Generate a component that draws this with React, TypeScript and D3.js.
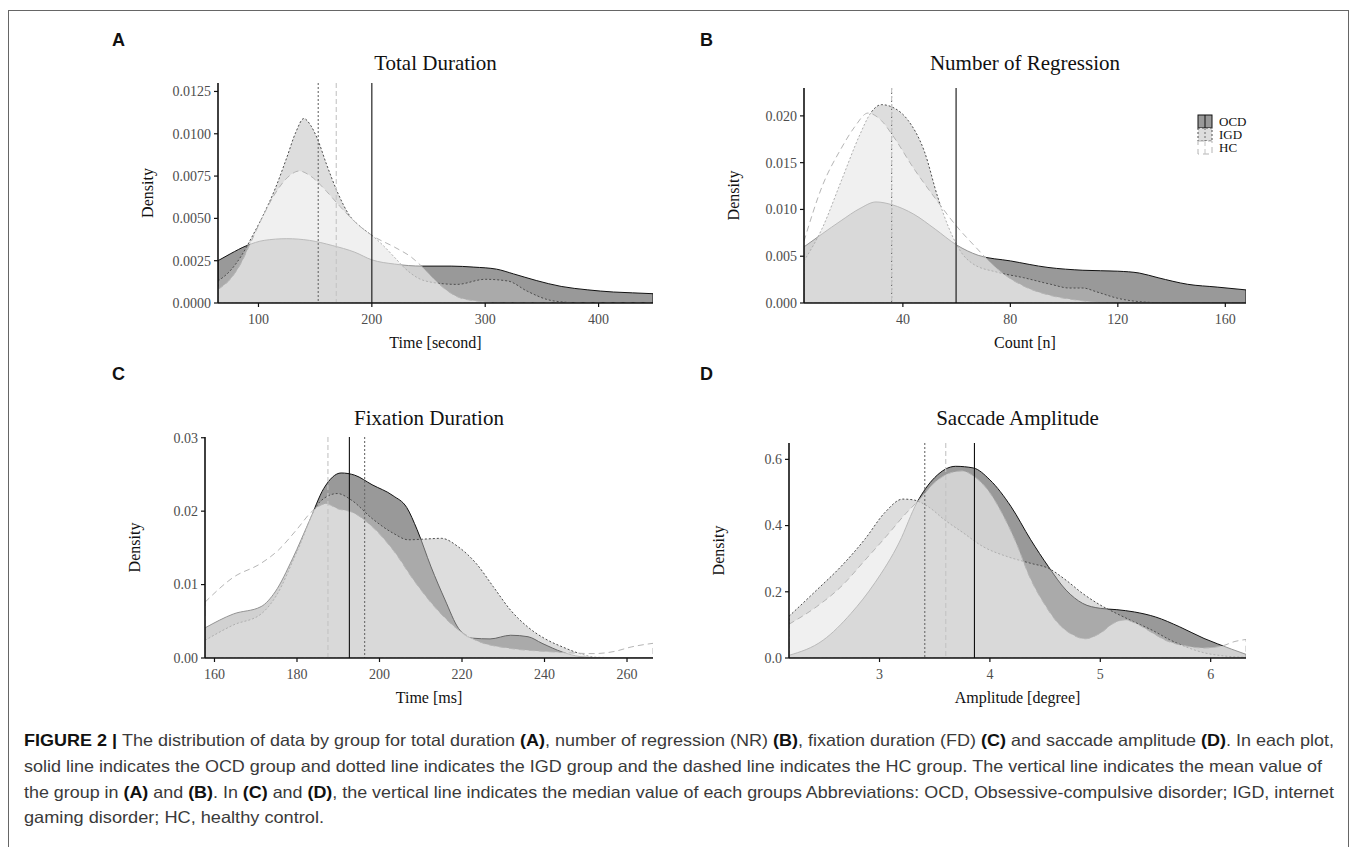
import React from 'react';
import * as d3 from 'd3';

type Pt = [number, number];

const groups = ['OCD', 'IGD', 'HC'];

// ---------- Panel A: Total Duration ----------
const tdOCD: Pt[] = [[64.3, 0.0025], [75, 0.0029], [90, 0.0034], [105, 0.0037], [125, 0.0038], [145, 0.0037], [165, 0.0034], [185, 0.0030], [200, 0.00255], [220, 0.0023], [245, 0.00218], [270, 0.00218], [290, 0.00212], [310, 0.0020], [325, 0.00172], [345, 0.00133], [367, 0.00098], [390, 0.00078], [413, 0.00065], [430, 0.0006], [448, 0.00055]];
const tdIGD: Pt[] = [[64.3, 0.0013], [75, 0.0019], [85, 0.0028], [95, 0.0040], [105, 0.0053], [115, 0.0068], [125, 0.0086], [133, 0.0101], [140, 0.0109], [146, 0.0105], [152, 0.0097], [160, 0.0082], [170, 0.0065], [180, 0.0052], [190, 0.0045], [200, 0.0040], [210, 0.0034], [220, 0.0027], [230, 0.0020], [240, 0.0015], [255, 0.0012], [275, 0.0011], [300, 0.0014], [320, 0.0013], [337, 0.0007], [355, 0.0002], [370, 0.00005], [390, 0], [448, 0]];
const tdHC: Pt[] = [[64.3, 0.0008], [75, 0.0014], [85, 0.0024], [92, 0.0034], [103, 0.0050], [115, 0.0065], [127, 0.0075], [136, 0.0078], [146, 0.0075], [160, 0.0066], [172, 0.0057], [185, 0.0048], [200, 0.0040], [220, 0.0033], [235, 0.0027], [245, 0.0021], [255, 0.0014], [265, 0.0008], [278, 0.0003], [295, 0.0001], [310, 0], [448, 0]];
const tdLines = [200, 152.7, 168.6];
const tdXTicks = [100, 200, 300, 400];
const tdYTicks = [0, 0.0025, 0.005, 0.0075, 0.01, 0.0125];

// ---------- Panel B: Number of Regression ----------
const nrOCD: Pt[] = [[3.2, 0.0060], [10, 0.0074], [17, 0.0088], [24, 0.0101], [30, 0.0108], [36, 0.0105], [44, 0.0095], [52, 0.0079], [60, 0.0062], [68, 0.0051], [80, 0.0045], [94, 0.0038], [107, 0.0035], [120, 0.0034], [128, 0.0032], [135, 0.0027], [146, 0.0020], [157, 0.0017], [167.7, 0.0014]];
const nrIGD: Pt[] = [[3.2, 0.0045], [10, 0.0080], [17, 0.0130], [24, 0.0180], [28, 0.0203], [32, 0.0212], [37, 0.0208], [42, 0.0195], [48, 0.0162], [53, 0.0113], [57, 0.0081], [62, 0.0053], [66, 0.0042], [75, 0.0033], [85, 0.0027], [95, 0.0020], [102, 0.0016], [107, 0.0016], [112, 0.0012], [120, 0.0005], [130, 0.0001], [140, 0], [167.7, 0]];
const nrHC: Pt[] = [[3.2, 0.0066], [10, 0.0125], [17, 0.0165], [22, 0.0188], [27, 0.0203], [32, 0.0195], [36, 0.0180], [44, 0.0144], [52, 0.0112], [60, 0.0082], [67, 0.0060], [72, 0.0045], [78, 0.0030], [85, 0.0018], [95, 0.0008], [105, 0.0003], [118, 0], [167.7, 0]];
const nrLines = [59.8, 35.8, 35.8];
const nrXTicks = [40, 80, 120, 160];
const nrYTicks = [0, 0.005, 0.01, 0.015, 0.02];

// ---------- Panel C: Fixation Duration ----------
const fdOCD: Pt[] = [[157.7, 0.0041], [164.6, 0.0060], [171.3, 0.0070], [174.7, 0.0090], [178.9, 0.0135], [183.1, 0.0188], [186.5, 0.0231], [190.7, 0.0252], [194, 0.0249], [198.2, 0.0236], [203.3, 0.0221], [206.6, 0.0205], [209.1, 0.0175], [212.5, 0.0124], [215.9, 0.0079], [219.2, 0.0040], [222.6, 0.0027], [226.8, 0.0026], [231.8, 0.0031], [236, 0.0029], [239.4, 0.0020], [244.4, 0.0008], [248.6, 0.0002], [255, 0], [266.3, 0]];
const fdIGD: Pt[] = [[157.7, 0.0024], [164.6, 0.0045], [171.3, 0.0060], [175, 0.0085], [180, 0.0145], [185.6, 0.0213], [189.8, 0.0224], [193.2, 0.0215], [198.2, 0.0190], [203.3, 0.0170], [207, 0.0161], [211, 0.0162], [215, 0.0163], [219.2, 0.0151], [223.4, 0.0129], [227.6, 0.0097], [231.8, 0.0065], [236, 0.0042], [240.2, 0.0026], [244.4, 0.0015], [248.6, 0.0006], [252.8, 0.0001], [266.3, 0]];
const fdHC: Pt[] = [[157.7, 0.0076], [164.6, 0.0110], [171.3, 0.0129], [175.5, 0.0147], [179.8, 0.0174], [183.9, 0.0201], [187, 0.0210], [190, 0.0203], [193.2, 0.0199], [198.2, 0.0179], [203.3, 0.0147], [208.3, 0.0106], [213.3, 0.0070], [218.3, 0.0042], [223.4, 0.0024], [231.8, 0.0013], [240.2, 0.0009], [246, 0.0007], [252, 0.0006], [257, 0.0009], [261, 0.0015], [266.3, 0.0020]];
const fdLines = [192.7, 196.4, 187.5];
const fdXTicks = [160, 180, 200, 220, 240, 260];
const fdYTicks = [0, 0.01, 0.02, 0.03];

// ---------- Panel D: Saccade Amplitude ----------
const saOCD: Pt[] = [[2.18, 0.008], [2.49, 0.054], [2.74, 0.134], [2.96, 0.228], [3.18, 0.35], [3.34, 0.47], [3.5, 0.545], [3.69, 0.579], [3.85, 0.574], [4.0, 0.538], [4.19, 0.458], [4.37, 0.357], [4.53, 0.276], [4.69, 0.205], [4.84, 0.165], [5.0, 0.150], [5.15, 0.146], [5.31, 0.139], [5.5, 0.124], [5.72, 0.094], [5.94, 0.059], [6.06, 0.043], [6.32, 0.011]];
const saIGD: Pt[] = [[2.18, 0.126], [2.43, 0.205], [2.65, 0.276], [2.87, 0.36], [3.05, 0.44], [3.21, 0.48], [3.30, 0.478], [3.45, 0.455], [3.59, 0.417], [3.75, 0.38], [3.94, 0.336], [4.16, 0.306], [4.37, 0.286], [4.53, 0.271], [4.69, 0.235], [4.84, 0.195], [5.0, 0.16], [5.15, 0.134], [5.3, 0.11], [5.47, 0.084], [5.63, 0.055], [5.78, 0.033], [5.95, 0.015], [6.1, 0.007], [6.32, 0.002]];
const saHC: Pt[] = [[2.18, 0.102], [2.43, 0.155], [2.65, 0.215], [2.87, 0.296], [3.06, 0.367], [3.24, 0.437], [3.36, 0.478], [3.5, 0.53], [3.65, 0.56], [3.75, 0.565], [3.85, 0.55], [3.98, 0.508], [4.11, 0.437], [4.24, 0.346], [4.36, 0.245], [4.49, 0.165], [4.62, 0.104], [4.75, 0.07], [4.86, 0.058], [5.0, 0.075], [5.12, 0.105], [5.22, 0.115], [5.32, 0.105], [5.45, 0.08], [5.6, 0.052], [5.78, 0.036], [5.94, 0.03], [6.1, 0.036], [6.22, 0.05], [6.32, 0.056]];
const saLines = [3.86, 3.41, 3.60];
const saXTicks = [3, 4, 5, 6];
const saYTicks = [0, 0.2, 0.4, 0.6];

// ---------- layout / style ----------
const styles = [
  { fill: '#333333', fo: 0.5, stroke: '#111111', dash: undefined as string | undefined },
  { fill: '#bbbbbb', fo: 0.5, stroke: '#4d4d4d', dash: '2,2' },
  { fill: '#ffffff', fo: 0.55, stroke: '#b5b5b5', dash: '6,4' },
];
const vStyles = [
  { stroke: '#111111', dash: undefined as string | undefined, w: 1.1 },
  { stroke: '#6a6a6a', dash: '2,2', w: 1.1 },
  { stroke: '#c4c4c4', dash: '5,3', w: 1.1 },
];

const serif = '"Liberation Serif", "DejaVu Serif", serif';
const sans = '"Liberation Sans", Arial, sans-serif';

const panels = [
  { id: 'A', title: 'Total Duration', xLabel: 'Time [second]', series: [tdOCD, tdIGD, tdHC], vlines: tdLines, xTicks: tdXTicks, yTicks: tdYTicks, yFmt: '.4f', xDomain: [64.3, 448], yDomain: [0, 0.0130], left: 218, right: 653, top: 83, bottom: 303, titleY: 70, letterX: 112, letterY: 46 },
  { id: 'B', title: 'Number of Regression', xLabel: 'Count [n]', series: [nrOCD, nrIGD, nrHC], vlines: nrLines, xTicks: nrXTicks, yTicks: nrYTicks, yFmt: '.3f', xDomain: [3.2, 167.7], yDomain: [0, 0.02298], left: 804, right: 1246, top: 88, bottom: 303, titleY: 70, letterX: 700, letterY: 46, legend: true },
  { id: 'C', title: 'Fixation Duration', xLabel: 'Time [ms]', series: [fdOCD, fdIGD, fdHC], vlines: fdLines, xTicks: fdXTicks, yTicks: fdYTicks, yFmt: '.2f', xDomain: [157.7, 266.3], yDomain: [0, 0.0301], left: 205, right: 653, top: 437, bottom: 658, titleY: 425, letterX: 112, letterY: 380 },
  { id: 'D', title: 'Saccade Amplitude', xLabel: 'Amplitude [degree]', series: [saOCD, saIGD, saHC], vlines: saLines, xTicks: saXTicks, yTicks: saYTicks, yFmt: '.1f', xDomain: [2.18, 6.32], yDomain: [0, 0.6494], left: 789, right: 1246, top: 443, bottom: 658, titleY: 425, letterX: 700, letterY: 380 },
];

function Panel({ p }: { p: any }) {
  const x = d3.scaleLinear().domain(p.xDomain).range([p.left, p.right]);
  const y = d3.scaleLinear().domain(p.yDomain).range([p.bottom, p.top]);
  const area = d3.area<Pt>().x(d => x(d[0])).y0(y(0)).y1(d => y(d[1])).curve(d3.curveMonotoneX);
  const fmt = d3.format(p.yFmt);
  const cx = (p.left + p.right) / 2;
  const cy = (p.top + p.bottom) / 2;
  const clipId = 'clip' + p.id;
  return (
    <g>
      <defs>
        <clipPath id={clipId}>
          <rect x={p.left} y={p.top - 2} width={p.right - p.left} height={p.bottom - p.top + 2} />
        </clipPath>
      </defs>
      <text x={p.letterX} y={p.letterY} fontFamily={sans} fontWeight="bold" fontSize={18} fill="#111">{p.id}</text>
      <text x={cx} y={p.titleY} textAnchor="middle" fontFamily={serif} fontSize={21} fill="#111">{p.title}</text>
      <g clipPath={`url(#${clipId})`}>
        {p.series.map((s: Pt[], i: number) => (
          <g key={groups[i]}>
            <path d={area(s) || ''} fill={styles[i].fill} fillOpacity={styles[i].fo} stroke="none" />
            <path d={area(s) || ''} fill="none" stroke={styles[i].stroke} strokeWidth={1} strokeDasharray={styles[i].dash} />
          </g>
        ))}
        {p.vlines.map((v: number, i: number) => (
          <line key={'v' + i} x1={x(v)} x2={x(v)} y1={p.top} y2={p.bottom} stroke={vStyles[i].stroke} strokeWidth={vStyles[i].w} strokeDasharray={vStyles[i].dash} />
        ))}
      </g>
      <line x1={p.left} x2={p.left} y1={p.top} y2={p.bottom} stroke="#111" strokeWidth={1.6} />
      <line x1={p.left} x2={p.right} y1={p.bottom} y2={p.bottom} stroke="#111" strokeWidth={1.6} />
      {p.yTicks.map((t: number) => (
        <g key={'y' + t}>
          <line x1={p.left - 4} x2={p.left} y1={y(t)} y2={y(t)} stroke="#111" strokeWidth={1.2} />
          <text x={p.left - 7} y={y(t)} dy="0.35em" textAnchor="end" fontFamily={serif} fontSize={14} fill="#4d4d4d">{fmt(t)}</text>
        </g>
      ))}
      {p.xTicks.map((t: number) => (
        <g key={'x' + t}>
          <line x1={x(t)} x2={x(t)} y1={p.bottom} y2={p.bottom + 4} stroke="#111" strokeWidth={1.2} />
          <text x={x(t)} y={p.bottom + 21} textAnchor="middle" fontFamily={serif} fontSize={14} fill="#4d4d4d">{String(t)}</text>
        </g>
      ))}
      <text x={cx} y={p.bottom + 44.5} textAnchor="middle" fontFamily={serif} fontSize={16} fill="#111">{p.xLabel}</text>
      <text transform={`translate(${p.left - 65},${cy}) rotate(-90)`} textAnchor="middle" fontFamily={serif} fontSize={16} fill="#111">Density</text>
      {p.legend && <Legend />}
    </g>
  );
}

function Legend() {
  const lx = 1198, ly = 115, kw = 14, kh = 13;
  return (
    <g>
      {groups.map((g, i) => {
        const yy = ly + i * kh;
        return (
          <g key={g}>
            <rect x={lx} y={yy} width={kw} height={kh} fill="#fff" />
            <rect x={lx} y={yy} width={kw} height={kh} fill={styles[i].fill} fillOpacity={styles[i].fo} stroke={styles[i].stroke} strokeWidth={1} strokeDasharray={styles[i].dash} />
            <line x1={lx + kw / 2} x2={lx + kw / 2} y1={yy} y2={yy + kh} stroke={vStyles[i].stroke} strokeWidth={1} strokeDasharray={vStyles[i].dash} />
            <text x={lx + kw + 7} y={yy + kh / 2} dy="0.35em" fontFamily={serif} fontSize={13} fill="#111">{g}</text>
          </g>
        );
      })}
    </g>
  );
}

const captionLines = [
  [['FIGURE 2 | ', true], ['The distribution of data by group for total duration ', false], ['(A)', true], [', number of regression (NR) ', false], ['(B)', true], [', fixation duration (FD) ', false], ['(C)', true], [' and saccade amplitude ', false], ['(D)', true], ['. In each plot,', false]],
  [['solid line indicates the OCD group and dotted line indicates the IGD group and the dashed line indicates the HC group. The vertical line indicates the mean value of', false]],
  [['the group in ', false], ['(A)', true], [' and ', false], ['(B)', true], ['. In ', false], ['(C)', true], [' and ', false], ['(D)', true], [', the vertical line indicates the median value of each groups Abbreviations: OCD, Obsessive-compulsive disorder; IGD, internet', false]],
  [['gaming disorder; HC, healthy control.', false]],
] as [string, boolean][][];
const captionWidths = [1310, 1298, 1310, 300];

export default function App() {
  return (
    <svg width={1354} height={847} viewBox="0 0 1354 847" style={{ position: 'absolute', left: 0, top: 0, background: '#fff' }}>
      <rect x={0} y={0} width={1354} height={847} fill="#fff" />
      <rect x={8.5} y={10.5} width={1340} height={860} fill="none" stroke="#666" strokeWidth={1} />
      {panels.map(p => <Panel key={p.id} p={p} />)}
      {captionLines.map((line, i) => (
        <text key={i} x={24} y={746 + i * 25.8} fontFamily={sans} fontSize={16.5} fill="#3a3a3a" textLength={captionWidths[i]} lengthAdjust="spacingAndGlyphs">
          {line.map(([t, b], j) => (
            <tspan key={j} fontWeight={b ? 'bold' : 'normal'} fill={b ? '#111' : '#3a3a3a'}>{t}</tspan>
          ))}
        </text>
      ))}
    </svg>
  );
}
